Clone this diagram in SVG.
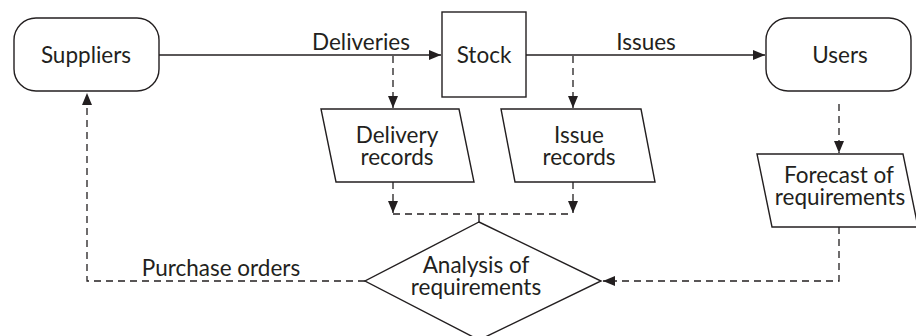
<svg xmlns="http://www.w3.org/2000/svg" width="916" height="336" viewBox="0 0 916 336">
  <style>
    .shape { fill: #ffffff; stroke: #231f20; stroke-width: 1.4; }
    .flow { fill: none; stroke: #231f20; stroke-width: 1.4; }
    .info { fill: none; stroke: #231f20; stroke-width: 1.3; stroke-dasharray: 7 5; }
    text { font-family: "Lato", "Liberation Sans", sans-serif; font-size: 22.5px; fill: #231f20; text-anchor: middle; }
  </style>
  <defs>
    <marker id="arrow" viewBox="0 0 12 10" refX="12" refY="5" markerWidth="12" markerHeight="10" markerUnits="userSpaceOnUse" orient="auto">
      <path d="M0,0 L12,5 L0,10 Z" fill="#231f20"/>
    </marker>
  </defs>

  <rect width="916" height="336" fill="#ffffff"/>

  <!-- material flows (solid) and information flows (dashed) -->
  <g id="connectors">
    <line class="flow" x1="159" y1="55" x2="441" y2="55" marker-end="url(#arrow)"/>
    <line class="flow" x1="526" y1="55" x2="765" y2="55" marker-end="url(#arrow)"/>
    <line class="info" x1="393" y1="56" x2="393" y2="108" marker-end="url(#arrow)"/>
    <line class="info" x1="573" y1="56" x2="573" y2="108" marker-end="url(#arrow)"/>
    <line class="info" x1="839" y1="104" x2="839" y2="153" marker-end="url(#arrow)"/>
    <line class="info" x1="393" y1="182" x2="393" y2="213" marker-end="url(#arrow)"/>
    <line class="info" x1="573" y1="182" x2="573" y2="213" marker-end="url(#arrow)"/>
    <line class="info" x1="393" y1="214" x2="573" y2="214"/>
    <line class="flow" x1="479" y1="214" x2="479" y2="222"/>
    <polyline class="info" points="839,227 839,281 603,281" marker-end="url(#arrow)"/>
    <polyline class="info" points="365,281 87,281 87,93" marker-end="url(#arrow)"/>
    <text x="361" y="50">Deliveries</text>
    <text x="646" y="50">Issues</text>
    <text x="221" y="276">Purchase orders</text>
  </g>

  <g id="suppliers">
    <rect class="shape" x="14" y="18" width="145" height="73" rx="22" ry="22"/>
    <text x="86" y="63">Suppliers</text>
  </g>

  <g id="stock">
    <rect class="shape" x="442" y="12" width="84" height="85"/>
    <text x="484" y="63">Stock</text>
  </g>

  <g id="users">
    <rect class="shape" x="766" y="18" width="145" height="73" rx="22" ry="22"/>
    <text x="840" y="63">Users</text>
  </g>

  <g id="delivery-records">
    <polygon class="shape" points="321,109 459,109 474,182 336,182"/>
    <text x="397" y="143">Delivery</text>
    <text x="397" y="165">records</text>
  </g>

  <g id="issue-records">
    <polygon class="shape" points="501,109 641,109 655,182 515,182"/>
    <text x="579" y="143">Issue</text>
    <text x="579" y="165">records</text>
  </g>

  <g id="forecast">
    <polygon class="shape" points="757,154 903,154 918,227 772,227"/>
    <text x="839" y="183">Forecast of</text>
    <text x="840" y="205">requirements</text>
  </g>

  <g id="analysis">
    <polygon class="shape" points="479,222 601,281 479,340 365,281"/>
    <text x="476" y="273">Analysis of</text>
    <text x="476" y="295">requirements</text>
  </g>
</svg>
